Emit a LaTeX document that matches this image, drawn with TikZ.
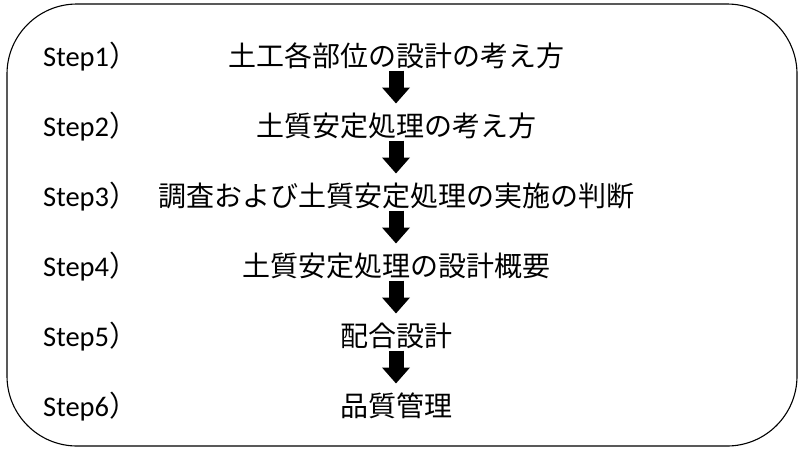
\documentclass[tikz,border=0pt]{standalone}
\usepackage{fontspec}
\setmainfont{Carlito}
\newfontfamily\jp{Noto Sans CJK JP}
\usetikzlibrary{arrows.meta}
\begin{document}
\begin{tikzpicture}[x=1pt,y=-1pt,
  steplabel/.style={anchor=base west,inner sep=0pt,font=\fontsize{28.5}{34}\selectfont},
  jptext/.style={anchor=base,inner sep=0pt,font=\jp\fontsize{28}{34}\selectfont},
  blockarrow/.style={line width=15pt,-{Triangle[length=16pt,width=27pt]}},
  frame/.style={draw=black,line width=1.1pt,rounded corners=70pt}]
\useasboundingbox (0,0) rectangle (802,451);
\draw[frame] (7,4) rectangle (797,446);
\foreach \i/\t in {1/土工各部位の設計の考え方,2/土質安定処理の考え方,3/調査および土質安定処理の実施の判断,4/土質安定処理の設計概要,5/配合設計,6/品質管理}{
  \node[steplabel] (s\i) at (43,{66.5+70*(\i-1)}) {Step\i{\jp ）}};
  \node[jptext] (j\i) at (396,{66.5+70*(\i-1)}) {\t};
}
\foreach \i [evaluate=\i as \n using int(\i+1)] in {1,...,5}{
  \draw[blockarrow] ([yshift=-4pt]j\i.base) -- ([yshift=33pt]j\n.base);
}
\end{tikzpicture}
\end{document}
